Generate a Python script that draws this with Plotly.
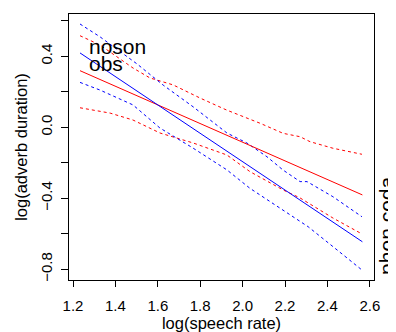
import plotly.graph_objects as go

# Fitted lines (endpoints of regression fits)
fit_x = [1.233, 2.565]
obs_fit = [0.419, -0.645]      # blue solid
noson_fit = [0.319, -0.381]    # red solid

# Confidence bands (dashed)
obs_up_x = [1.233, 1.327, 1.502, 1.625, 1.766, 1.926, 2.021, 2.115, 2.191, 2.271, 2.304, 2.426, 2.563]
obs_up_y = [0.582, 0.510, 0.357, 0.238, 0.116, -0.032, -0.089, -0.166, -0.241, -0.306, -0.306, -0.391, -0.504]

obs_lo_x = [1.233, 1.327, 1.483, 1.610, 1.766, 1.926, 2.035, 2.191, 2.309, 2.426, 2.563]
obs_lo_y = [0.253, 0.210, 0.126, -0.004, -0.117, -0.240, -0.344, -0.466, -0.560, -0.672, -0.804]

noson_up_x = [1.233, 1.327, 1.483, 1.563, 1.672, 1.799, 1.925, 2.082, 2.191, 2.271, 2.318, 2.426, 2.563]
noson_up_y = [0.516, 0.464, 0.334, 0.278, 0.239, 0.165, 0.097, 0.023, -0.034, -0.053, -0.081, -0.118, -0.152]

noson_lo_x = [1.233, 1.375, 1.483, 1.610, 1.766, 1.926, 2.035, 2.191, 2.271, 2.351, 2.426, 2.563]
noson_lo_y = [0.110, 0.080, 0.041, -0.032, -0.088, -0.156, -0.250, -0.353, -0.398, -0.454, -0.511, -0.601]

x_ticks = [1.2, 1.4, 1.6, 1.8, 2.0, 2.2, 2.4, 2.6]
y_ticks = [-0.8, -0.6, -0.4, -0.2, 0.0, 0.2, 0.4, 0.6]
y_ticktext = ["\u22120.8", "", "\u22120.4", "", "0.0", "", "0.4", ""]

RED = "#FF0000"
BLUE = "#0000FF"
FONT = "Liberation Sans, Arial, Helvetica, sans-serif"

fig = go.Figure()
dash = "3px,3px"
fig.add_trace(go.Scatter(x=noson_up_x, y=noson_up_y, mode="lines", line=dict(color=RED, width=1, dash=dash)))
fig.add_trace(go.Scatter(x=noson_lo_x, y=noson_lo_y, mode="lines", line=dict(color=RED, width=1, dash=dash)))
fig.add_trace(go.Scatter(x=obs_up_x, y=obs_up_y, mode="lines", line=dict(color=BLUE, width=1, dash=dash)))
fig.add_trace(go.Scatter(x=obs_lo_x, y=obs_lo_y, mode="lines", line=dict(color=BLUE, width=1, dash=dash)))
fig.add_trace(go.Scatter(x=fit_x, y=noson_fit, mode="lines", line=dict(color=RED, width=1)))
fig.add_trace(go.Scatter(x=fit_x, y=obs_fit, mode="lines", line=dict(color=BLUE, width=1)))

fig.add_annotation(x=1.265, y=0.458, xref="x", yref="y", text="noson", showarrow=False,
                   xanchor="left", yanchor="middle", font=dict(size=21, color="black", family=FONT))
fig.add_annotation(x=1.265, y=0.357, xref="x", yref="y", text="obs", showarrow=False,
                   xanchor="left", yanchor="middle", font=dict(size=21, color="black", family=FONT))
fig.add_annotation(x=1.039, y=0.203, xref="paper", yref="paper", text="phon.coda", showarrow=False,
                   textangle=-90, xanchor="center", yanchor="middle",
                   font=dict(size=21, color="black", family=FONT))

# page body has an 8px default margin, so the figure is offset by (8, 8)
fig.update_layout(
    width=396, height=332,
    margin=dict(l=61, r=30, t=6, b=60, autoexpand=False),
    paper_bgcolor="white", plot_bgcolor="white",
    showlegend=False,
    font=dict(family=FONT, color="black"),
)
fig.update_xaxes(
    range=[1.1811, 2.6198], tickvals=x_ticks, ticktext=[f"{v:.1f}" for v in x_ticks],
    ticks="outside", ticklen=6, tickwidth=1, tickcolor="black", ticklabelstandoff=6,
    showline=True, linecolor="black", linewidth=1, mirror=True,
    showgrid=False, zeroline=False, automargin=False,
    tickfont=dict(size=15), title=dict(text="log(speech rate)", font=dict(size=16.5), standoff=3),
)
fig.update_yaxes(
    range=[-0.8603, 0.6383], tickvals=y_ticks, ticktext=y_ticktext, tickangle=-90,
    ticks="outside", ticklen=7, tickwidth=1, tickcolor="black", ticklabelstandoff=3,
    showline=True, linecolor="black", linewidth=1, mirror=True,
    showgrid=False, zeroline=False, automargin=False,
    tickfont=dict(size=15), title=dict(text="log(adverb duration)", font=dict(size=16.5), standoff=6),
)

fig.write_html("out.html")
